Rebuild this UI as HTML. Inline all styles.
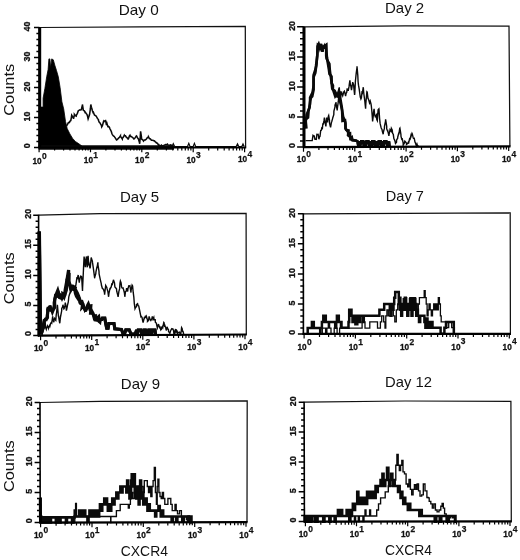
<!DOCTYPE html>
<html><head><meta charset="utf-8"><title>CXCR4 histograms</title>
<style>html,body{margin:0;padding:0;background:#fff}svg{display:block}text{font-family:"Liberation Sans", sans-serif;fill:#111}</style>
</head><body>
<svg width="520" height="560" viewBox="0 0 520 560">
<rect width="520" height="560" fill="#fff"/>
<g id="panel1">
<polygon points="40.5,147.3 40.5,107.1 43.1,107.1 43.1,98.2 44.9,88.4 46.7,76.8 48.1,69.6 48.9,58.9 49.9,58.9 50.6,67.9 51.7,58.9 53.3,59.8 54.8,65.2 56.5,70.5 58.3,76.8 60.1,87.5 61.9,101.8 63.7,108.9 65.5,121.4 67.2,128.6 69.9,133.9 72.6,138.4 75.3,141.4 78.9,143.8 82.4,146.4 84.2,147.3" fill="#000" stroke="#000" stroke-width="0.8" stroke-linejoin="miter"/>
<polyline points="66.4,126 66.4,125.9 67.4,124.7 68.4,122.6 69,122.3 69.4,122.5 70.4,120.6 70.8,120.5 71.4,117.3 71.7,115.2 72.4,116.4 73.4,118 73.5,118.8 74.4,115 74.4,114.3 75.4,115.6 76.2,116.1 76.4,115 77.4,113.3 78,111.6 78.4,110.6 79.4,110.2 79.8,109.8 80.4,110 81.4,109.6 81.5,108.9 82.4,105.2 82.4,104.5 83.3,109.8 83.4,110.5 84.4,110.8 85.1,112.5 85.4,112.4 86.4,113.7 86.9,114.3 87.4,115.7 88.1,118.8 88.4,117.9 89.4,115.1 89.6,114.3 90.4,108.7 90.8,104.5 91.4,107.2 91.7,108 92.4,110.7 93.1,112.5 93.4,112.3 94.4,115 94.9,115.2 95.4,115.7 96.4,116.2 96.7,117 97.4,118.4 98.4,119.6 98.5,120.5 99.4,122.5 100.3,123.2 100.4,123.8 101.4,125.4 101.7,126.8 102.4,125.6 103.4,122 103.5,122.3 104.4,121 105.4,120.5 105.6,120.5 106.4,124.8 106.5,125 106.5,121.7 107.4,125.3 107.9,126.5 108.4,126.4 109.4,127.3 109.8,128.5 110.4,129.6 111.4,131.8 111.8,133.3 112.4,134.6 113.4,136 114.4,136.5 114.7,137.1 115.4,138.2 116.4,139.8 116.6,140 117.4,139.4 118.4,138.2 118.5,138.1 119.4,137.5 120.4,135.9 120.4,136.2 121.4,137.6 122.3,139 122.4,138.3 123.4,137.1 124.3,135.2 124.4,135.4 125.4,135.7 126.2,137.1 126.4,137.2 127.4,138.1 128.1,139 128.4,138.9 129.4,135.9 130,135.2 130.4,136.2 131.4,136.4 132,137.1 132.4,137.3 133.4,138.2 133.9,139 134.4,138.7 135.4,137.4 136.4,135.9 136.8,136.2 137.4,137.7 138.4,138.9 138.7,140 139.4,142.3 139.7,143.8 140.4,134.6 140.6,131.3 141.4,136.7 141.6,139 142.4,139.6 143.4,140.7 143.5,141 144.4,139.9 145.4,139.9 146.4,139 146.4,139 147.4,137.5 148.3,137.1 148.4,136.7 149.4,138.6 150.4,138.9 151.2,140 151.4,140.3 152.4,140.2 153.4,140.4 154.1,141 154.4,140.9 155.4,141.9 156.4,142.7 156.4,142.9 157.4,143.2 158.4,145 158.9,144.8 159.4,145.6 160.4,145.9 161.4,145.2 161.8,145.8 162.4,146.1 163.4,145.5 164.4,145.1 165.4,144.6 166.4,144.7 167.4,144.2 167.5,144.8 168.4,145.1 169.4,145.4 170.4,144.9 171.4,145.2 171.4,144.8 172.3,147.1" fill="none" stroke="#0a0a0a" stroke-width="1.55" stroke-linejoin="miter" stroke-linecap="butt"/>
<polyline points="38.6,147.5 174,147.5" fill="none" stroke="#0a0a0a" stroke-width="4.4" stroke-linejoin="miter" stroke-linecap="butt"/>
<polyline points="172,146.5 173.3,143.6 174.6,146.5 187.5,146.5 188.8,143.4 190,146.5 193.2,146.5 194.4,143.4 195.6,146.5 236.2,146.5 237.5,143.8 238.8,146.5 241.8,146.5 243,144 244.2,146.5" fill="none" stroke="#0a0a0a" stroke-width="1.2" stroke-linejoin="miter" stroke-linecap="butt"/>
<path d="M39.4 27.5 L140 26.9 L245.3 26.4 L245.6 147.5" fill="none" stroke="#111" stroke-width="1.25"/>
<path d="M39.4 27 L39.4 148.5" stroke="#000" stroke-width="1.6"/>
<path d="M39.7 27.5 L39.7 147.3" stroke="#000" stroke-width="3"/>
<path d="M38.6 147.5 L246.2 147.5" stroke="#000" stroke-width="2.2"/>
<path d="M39.4 147.5h-5.4M39.4 141.5h-3M39.4 135.5h-3M39.4 129.5h-3M39.4 123.5h-3M39.4 117.5h-5.4M39.4 111.5h-3M39.4 105.5h-3M39.4 99.5h-3M39.4 93.5h-3M39.4 87.5h-5.4M39.4 81.5h-3M39.4 75.5h-3M39.4 69.5h-3M39.4 63.5h-3M39.4 57.5h-5.4M39.4 51.5h-3M39.4 45.5h-3M39.4 39.5h-3M39.4 33.5h-3M39.4 27.5h-5.4" stroke="#000" stroke-width="1.5" fill="none"/>
<text transform="translate(30.4 145.9) rotate(-90)" text-anchor="middle" font-size="8.2" font-weight="bold" textLength="4.9" lengthAdjust="spacingAndGlyphs" stroke="#111" stroke-width="0.3">0</text>
<text transform="translate(30.4 116.6) rotate(-90)" text-anchor="middle" font-size="8.2" font-weight="bold" textLength="9.8" lengthAdjust="spacingAndGlyphs" stroke="#111" stroke-width="0.3">10</text>
<text transform="translate(30.4 86.6) rotate(-90)" text-anchor="middle" font-size="8.2" font-weight="bold" textLength="9.8" lengthAdjust="spacingAndGlyphs" stroke="#111" stroke-width="0.3">20</text>
<text transform="translate(30.4 56.6) rotate(-90)" text-anchor="middle" font-size="8.2" font-weight="bold" textLength="9.8" lengthAdjust="spacingAndGlyphs" stroke="#111" stroke-width="0.3">30</text>
<text transform="translate(30.4 26.6) rotate(-90)" text-anchor="middle" font-size="8.2" font-weight="bold" textLength="9.8" lengthAdjust="spacingAndGlyphs" stroke="#111" stroke-width="0.3">40</text>
<path d="M39.1 147v5.2M54.6 147.5v3.1M63.6 147.5v3.1M70 147.5v3.1M75 147.5v3.1M79.1 147.5v3.1M82.5 147.5v3.1M85.5 147.5v3.1M88.1 147.5v3.1M90.5 147v5.2M105.9 147.5v3.1M115 147.5v3.1M121.4 147.5v3.1M126.4 147.5v3.1M130.5 147.5v3.1M133.9 147.5v3.1M136.9 147.5v3.1M139.5 147.5v3.1M141.8 147v5.2M157.3 147.5v3.1M166.4 147.5v3.1M172.8 147.5v3.1M177.8 147.5v3.1M181.8 147.5v3.1M185.3 147.5v3.1M188.2 147.5v3.1M190.9 147.5v3.1M193.2 147v5.2M208.7 147.5v3.1M217.7 147.5v3.1M224.2 147.5v3.1M229.1 147.5v3.1M233.2 147.5v3.1M236.6 147.5v3.1M239.6 147.5v3.1M242.2 147.5v3.1M244.6 147v5.2" stroke="#000" stroke-width="1.2" fill="none"/>
<text x="41.6" y="163.7" text-anchor="end" font-size="8.7" font-weight="bold" textLength="9.2" lengthAdjust="spacingAndGlyphs" stroke="#111" stroke-width="0.3">10</text>
<text x="41.9" y="158.5" font-size="9.2" font-weight="bold" textLength="4.7" lengthAdjust="spacingAndGlyphs" stroke="#111" stroke-width="0.25">0</text>
<text x="93" y="163.4" text-anchor="end" font-size="8.7" font-weight="bold" textLength="9.2" lengthAdjust="spacingAndGlyphs" stroke="#111" stroke-width="0.3">10</text>
<text x="93.3" y="158.2" font-size="9.2" font-weight="bold" textLength="4.7" lengthAdjust="spacingAndGlyphs" stroke="#111" stroke-width="0.25">1</text>
<text x="144.3" y="163.1" text-anchor="end" font-size="8.7" font-weight="bold" textLength="9.2" lengthAdjust="spacingAndGlyphs" stroke="#111" stroke-width="0.3">10</text>
<text x="144.7" y="157.9" font-size="9.2" font-weight="bold" textLength="4.7" lengthAdjust="spacingAndGlyphs" stroke="#111" stroke-width="0.25">2</text>
<text x="195.7" y="162.7" text-anchor="end" font-size="8.7" font-weight="bold" textLength="9.2" lengthAdjust="spacingAndGlyphs" stroke="#111" stroke-width="0.3">10</text>
<text x="196" y="157.5" font-size="9.2" font-weight="bold" textLength="4.7" lengthAdjust="spacingAndGlyphs" stroke="#111" stroke-width="0.25">3</text>
<text x="247.1" y="162.4" text-anchor="end" font-size="8.7" font-weight="bold" textLength="9.2" lengthAdjust="spacingAndGlyphs" stroke="#111" stroke-width="0.3">10</text>
<text x="247.4" y="157.2" font-size="9.2" font-weight="bold" textLength="4.7" lengthAdjust="spacingAndGlyphs" stroke="#111" stroke-width="0.25">4</text>
<text x="118.8" y="15.1" font-size="14.6" fill="#1c1c1c" textLength="40" lengthAdjust="spacingAndGlyphs">Day 0</text>
<text transform="translate(13.5 89.8) rotate(-90)" text-anchor="middle" font-size="15.4" fill="#1c1c1c" textLength="51.8" lengthAdjust="spacingAndGlyphs">Counts</text>
</g>
<g id="panel2">
<polyline points="305.5,140.6 312.2,140.6 313,135.3 314.1,136.3 314.1,135.3 314.9,139.2 315.2,139.1 316.1,139.2 316.3,139.3 316.9,134.3 317.4,134.4 318.1,134.3 318.5,135.9 318.9,139.2 319.6,136.6 320,136.3 320.7,130.5 321.2,130.4 321.8,127.9 322.4,128.4 322.9,123.3 323.2,124.5 324,120.7 324.4,117.6 325.1,123.1 325.1,122.5 325.9,126.4 326.2,122 326.7,117.6 327.3,119.5 327.5,122.5 328.4,116.3 328.7,115.6 329.5,120.6 329.5,122.8 330.3,126.4 330.6,127.4 331.4,122.5 331.7,121.7 332.6,118.6 332.8,117.7 333.8,114.7 333.9,111.2 335,106.8 335,105.2 336.1,102.3 336.1,103.9 337.2,110.5 337.3,108.8 338.3,101.7 338.5,98.9 339.3,87.2 339.4,89.6 340.5,97 340.5,96.6 341.6,91.5 341.7,93 342.7,95.7 343.2,94 343.8,91.8 344.4,91.1 344.9,92.8 345.6,96 346,93.8 346.8,92.1 347.1,89 347.9,89.1 348.2,90.9 349.1,86.2 349.3,84.4 349.9,80.3 350.4,85 350.7,85.2 351.5,90.1 351.5,90.2 352.6,82.9 352.7,82.2 353.7,85.1 353.8,87.2 354.6,95 354.8,93.2 355.4,81.3 355.9,76.3 356.2,73.4 357,67.5 357,66.2 357.8,75.4 358.1,81.8 358.5,85.2 359.2,89.2 359.7,93 360.3,97.1 360.9,98.9 361.4,97.7 362.1,91.1 362.5,92.1 363.3,87.2 363.6,91.5 364,95 364.7,100.2 364.8,100.9 365.6,108.8 365.8,104 366.4,97 366.9,91.8 367.2,92.1 368,98.6 368.4,98.9 369.1,101.4 369.5,102.9 370.2,101 371,103.9 371.3,105.8 371.8,110.7 372.4,118.1 372.6,121.5 373.4,114.7 373.5,112.4 374.1,108.8 374.6,114.6 375.3,116.6 375.7,115.8 376.5,114.7 376.8,119.6 377.3,120.6 377.9,112.7 378.1,109.7 378.9,108.8 379,109.6 379.6,118.6 380.1,123.4 380.8,126.4 381.2,128 382,129.4 382.3,131.2 383.2,134.3 383.4,132 384.4,128.4 384.5,126.2 385.5,121.5 385.6,119.4 386.7,126.4 386.7,128.9 387.8,131.6 387.9,131.4 388.9,135.8 389.1,134.3 390,129.8 390.3,130.4 391.1,131.3 391.4,128.4 392.2,129.9 392.6,133.3 393.3,134.3 393.8,138.2 394.4,139.6 395,141.2 395.5,143.4 396.5,142.2 396.6,139.9 397.7,138.2 397.7,137.2 398.8,133 398.9,134.3 399.7,128.4 399.9,128.1 400.9,134.3 401,136.3 402,140.2 402.1,138.1 403.2,143.1 403.2,145.1 404.3,143.3 404.8,141.2 405.4,141.8 406.4,143.1 406.5,144.4 407.6,143.6 408.3,142.2 408.7,142.7 409.8,137.9 409.9,140.2 410.9,135.7 411.1,136.3 412,133.3 412.3,133.9 413.1,137.4 413.4,138.2 414.2,138.2 415,142.2 415.3,142.5 416.4,146 417,144.1 417.5,145.7 418.6,146.1 418.9,146.1" fill="none" stroke="#0a0a0a" stroke-width="1.4" stroke-linejoin="miter" stroke-linecap="butt"/>
<polyline points="306.4,128.6 305.5,119.3 308,117.6 308.5,111 309.3,108 310.2,101.3 310.8,98 312.2,96.3 313.6,89.7 313.5,82.5 313.6,75.3 315.3,70 316.1,65.5 317.3,55.7 317.6,46.4 318.7,44.1 319.9,48 321.1,44 322.5,51.7 323.1,47.7 324,46.4 324.1,47.7 326.2,45.5 326.7,55.7 327,58.1 328,63.7 328.9,69.2 329.5,73.9 331.5,76.4 331.7,83.1 332.9,85.5 332.8,89.3 334.7,90.8 336,93.5 336.9,94.8 337.9,97.6 337.9,95.1 339.1,92.2 339.3,91.3 340.6,100.6 341.7,106.9 343,116.5 344.1,119.2 344.7,120.4 345.4,123.2 345.5,128.7 346.1,129.7 348.5,130.4 348.1,135.3 349.4,136.3 349.6,135.9 350.7,138 351.5,139.9 356,140.6 357.5,141.3 358.4,146.6 359.1,141.3 360,146.6 361.2,141.3 362.2,141.3 363.2,141.3 363.9,146.6 364.6,141.3 365.8,146.6 366.5,141.3 367.4,141.3 368.4,141.3 369.6,146.6 370.3,141.3 371.5,146.6 372.2,141.3 373.2,141.3 374.2,141.3 374.9,146.6 375.6,141.3 376.5,146.6 377.4,141.3 378.1,146.6 378.8,141.3 379.8,141.3 380.8,141.3 381.5,146.6 382.7,141.3 383.6,146.6 384.3,141.3 385.3,141.3 386.3,141.3 387.5,146.6 388.2,141.3 388.9,146.6 389,141.3 389.5,146.6" fill="none" stroke="#0a0a0a" stroke-width="2.7" stroke-linejoin="miter" stroke-linecap="butt"/>
<polyline points="305.4,125.8 305.8,121.9 306.6,114.5 309.7,106.9 310,104 310,97.4 312.5,92.2 313.7,84.6 313.7,77 315.4,72.9 316.7,62.9 317.3,53.6 317.8,44.9 320.2,46.8 320.7,44 321.5,47 322.6,46.8 323.5,47.2 326.1,45 326.1,55.9 326.5,58.7 329.5,63.8 329.9,69.8 331,79 331.2,80.2 332.1,88.3 333,89.9 335.2,96.6 336.1,95.5 337.7,94.8 338.7,91.3 339.8,94.3 339.7,99.6 342,110 342.4,120.9 345.1,120.3 345.6,126.5 345.6,128.1 346.3,130 348.8,133.3 350.1,133.1 350.3,138.3 351.9,137.1 352.6,140.4 356,140.6 357.5,141.3 358.4,146.6 359.1,141.3 360,146.6 361.2,141.3 362.2,141.3 363.2,141.3 363.9,146.6 364.6,141.3 365.8,146.6 366.5,141.3 367.4,141.3 368.4,141.3 369.6,146.6 370.3,141.3 371.5,146.6 372.2,141.3 373.2,141.3 374.2,141.3 374.9,146.6 375.6,141.3 376.5,146.6 377.4,141.3 378.1,146.6 378.8,141.3 379.8,141.3 380.8,141.3 381.5,146.6 382.7,141.3 383.6,146.6 384.3,141.3 385.3,141.3 386.3,141.3 387.5,146.6 388.2,141.3 388.9,146.6 389,141.3 389.5,146.6" fill="none" stroke="#0a0a0a" stroke-width="2.4" stroke-linejoin="miter" stroke-linecap="butt"/>
<path d="M303.7 26.8 L405 25.8 L509 26.2 L509.9 146.4" fill="none" stroke="#111" stroke-width="1.25"/>
<path d="M303.7 26.3 L303.7 148.1" stroke="#000" stroke-width="1.6"/>
<path d="M304 26.9 L304 146.6" stroke="#000" stroke-width="3"/>
<path d="M302.9 147.1 L510.5 146.4" stroke="#000" stroke-width="2.2"/>
<path d="M303.7 147.1h-6.6M303.7 141.1h-3.7M303.7 135.1h-3.7M303.7 129.1h-3.7M303.7 123h-3.7M303.7 117h-6.6M303.7 111h-3.7M303.7 105h-3.7M303.7 99h-3.7M303.7 93h-3.7M303.7 86.9h-6.6M303.7 80.9h-3.7M303.7 74.9h-3.7M303.7 68.9h-3.7M303.7 62.9h-3.7M303.7 56.9h-6.6M303.7 50.9h-3.7M303.7 44.8h-3.7M303.7 38.8h-3.7M303.7 32.8h-3.7M303.7 26.8h-6.6" stroke="#000" stroke-width="1.5" fill="none"/>
<text transform="translate(294.6 145.5) rotate(-90)" text-anchor="middle" font-size="8.2" font-weight="bold" textLength="4.9" lengthAdjust="spacingAndGlyphs" stroke="#111" stroke-width="0.3">0</text>
<text transform="translate(294.6 116.1) rotate(-90)" text-anchor="middle" font-size="8.2" font-weight="bold" textLength="4.9" lengthAdjust="spacingAndGlyphs" stroke="#111" stroke-width="0.3">5</text>
<text transform="translate(294.6 86) rotate(-90)" text-anchor="middle" font-size="8.2" font-weight="bold" textLength="9.8" lengthAdjust="spacingAndGlyphs" stroke="#111" stroke-width="0.3">10</text>
<text transform="translate(294.6 56) rotate(-90)" text-anchor="middle" font-size="8.2" font-weight="bold" textLength="9.8" lengthAdjust="spacingAndGlyphs" stroke="#111" stroke-width="0.3">15</text>
<text transform="translate(294.6 25.9) rotate(-90)" text-anchor="middle" font-size="8.2" font-weight="bold" textLength="9.8" lengthAdjust="spacingAndGlyphs" stroke="#111" stroke-width="0.3">20</text>
<path d="M303.5 146.6v5.2M318.9 147v3.1M328 147v3.1M334.4 147v3.1M339.4 147v3.1M343.4 147v3.1M346.9 147v3.1M349.8 146.9v3.1M352.5 146.9v3.1M354.8 146.4v5.2M370.2 146.9v3.1M379.3 146.8v3.1M385.7 146.8v3.1M390.7 146.8v3.1M394.7 146.8v3.1M398.2 146.8v3.1M401.1 146.8v3.1M403.8 146.8v3.1M406.1 146.2v5.2M421.5 146.7v3.1M430.6 146.7v3.1M437 146.6v3.1M442 146.6v3.1M446 146.6v3.1M449.5 146.6v3.1M452.4 146.6v3.1M455.1 146.6v3.1M457.4 146.1v5.2M472.8 146.5v3.1M481.9 146.5v3.1M488.3 146.5v3.1M493.3 146.5v3.1M497.3 146.4v3.1M500.8 146.4v3.1M503.7 146.4v3.1M506.4 146.4v3.1M508.7 145.9v5.2" stroke="#000" stroke-width="1.2" fill="none"/>
<text x="306" y="162.1" text-anchor="end" font-size="8.7" font-weight="bold" textLength="9.2" lengthAdjust="spacingAndGlyphs" stroke="#111" stroke-width="0.3">10</text>
<text x="306.3" y="156.9" font-size="9.2" font-weight="bold" textLength="4.7" lengthAdjust="spacingAndGlyphs" stroke="#111" stroke-width="0.25">0</text>
<text x="357.3" y="162" text-anchor="end" font-size="8.7" font-weight="bold" textLength="9.2" lengthAdjust="spacingAndGlyphs" stroke="#111" stroke-width="0.3">10</text>
<text x="357.6" y="156.8" font-size="9.2" font-weight="bold" textLength="4.7" lengthAdjust="spacingAndGlyphs" stroke="#111" stroke-width="0.25">1</text>
<text x="408.6" y="161.9" text-anchor="end" font-size="8.7" font-weight="bold" textLength="9.2" lengthAdjust="spacingAndGlyphs" stroke="#111" stroke-width="0.3">10</text>
<text x="408.9" y="156.8" font-size="9.2" font-weight="bold" textLength="4.7" lengthAdjust="spacingAndGlyphs" stroke="#111" stroke-width="0.25">2</text>
<text x="459.9" y="161.9" text-anchor="end" font-size="8.7" font-weight="bold" textLength="9.2" lengthAdjust="spacingAndGlyphs" stroke="#111" stroke-width="0.3">10</text>
<text x="460.2" y="156.7" font-size="9.2" font-weight="bold" textLength="4.7" lengthAdjust="spacingAndGlyphs" stroke="#111" stroke-width="0.25">3</text>
<text x="511.2" y="161.8" text-anchor="end" font-size="8.7" font-weight="bold" textLength="9.2" lengthAdjust="spacingAndGlyphs" stroke="#111" stroke-width="0.3">10</text>
<text x="511.5" y="156.6" font-size="9.2" font-weight="bold" textLength="4.7" lengthAdjust="spacingAndGlyphs" stroke="#111" stroke-width="0.25">4</text>
<text x="385" y="13.1" font-size="14.6" fill="#1c1c1c" textLength="39.2" lengthAdjust="spacingAndGlyphs">Day 2</text>
</g>
<g id="panel3">
<polyline points="40.9,330.2 42.1,334.1 43.6,328.2 45.2,324.5 45.2,326.3 46.3,329.3 46.8,327.2 47.4,325.8 48.4,328.2 48.5,327.3 49.6,325.4 49.9,326.3 50.7,323.4 51.5,322.3 51.8,322.8 52.7,316.4 52.9,319.7 53.9,322.3 54,319.4 54.6,318.4 55.1,319.6 55.8,320.4 56.2,315 56.6,312.5 57.3,305.9 57.4,304.7 58.4,316.2 58.6,316.4 59.5,322.2 59.8,323.3 60.5,316.4 60.6,316.5 61.7,310.8 61.7,308.6 62.8,306.3 62.9,304.7 63.9,308.8 64.1,308.6 65,305.4 65.3,302.7 66.1,306.9 66.4,310.6 67.2,306.8 67.6,304.7 68.3,302 68.8,296.8 69.4,294.8 70,292.9 70.5,292.3 71.5,288.9 71.6,287.9 72.7,287.9 73.1,287 73.8,287.9 74.7,288 74.9,287.1 75.9,285 76,284.1 77,277.2 77.1,279.4 78.2,274.9 78.2,275.2 79.3,282.7 79.4,281.1 80.4,276.9 80.6,276.2 81.5,276.6 81.8,279.1 82.5,290.9 82.6,287.7 83.3,273.2 83.7,264.3 84.1,256.5 84.8,262.3 85.3,267.3 85.9,259.4 86.5,256.5 87,265.4 87.3,267.3 88,256.5 88.1,255.9 88.8,265.4 89.2,264.2 90,268.3 90.3,267.1 91.2,257.5 91.4,258.1 92.4,261.4 92.5,262.4 93.5,269.3 93.6,270.2 94.7,278.3 94.7,277.2 95.8,273.7 95.9,272.2 96.9,267.3 97.1,267.3 97.9,262.4 98,265.1 99,271.3 99.1,273.8 100.2,279.1 100.2,279.1 101.3,283.8 101.4,285 102.4,288.5 103,288.9 103.5,289.2 104.5,292.9 104.6,294.7 105.5,287 105.7,285.4 106.8,287.4 107.1,288.9 107.9,291.6 108.6,296.8 109,293 110.1,288 110.2,288.9 111.2,286.9 111.8,284 112.3,284.3 113.4,280.1 113.4,279.8 114.5,282.9 114.9,287 115.6,287.8 116.5,288.9 116.7,291.2 117.8,295.3 118.1,296.8 118.9,291.3 119.6,288.9 120,283.2 120.4,281.1 121.1,282.9 121.6,287 122.2,288.1 123.2,288 123.3,288.7 124.4,292.7 124.8,296.8 125.5,291.7 126.3,290.9 126.6,288.2 127.7,291.5 127.9,288.9 128.8,285.9 129.5,286 129.9,285.7 131,292.6 131,290.9 132.1,285.2 132.6,286 133.2,292.2 133.8,296.8 134.3,303.5 135,308.6 135.4,307.7 136.5,306.4 136.5,304.7 137.6,303.8 138.1,305.6 138.7,305.9 139.7,310.6 139.8,311.1 140.9,316.7 141.3,316.4 142,317.3 142.8,321.4 143.1,322.6 144.2,318.2 144.4,318.4 145.3,316.4 146,317.4 146.4,316.4 147.5,320 147.5,321.4 148.6,320.3 149.1,316.4 149.7,318.2 150.7,320.4 150.8,320.5 151.9,318.6 152.3,316.4 153,319.1 153.8,317.4 154.1,319.8 155.2,319.8 155.4,322.3 156.3,323.1 157,326.3 157.4,327.8 158.5,323.9 158.5,324.3 159.6,327.4 160,327 160.7,329.6 161.6,327.7 161.8,328.5 162.7,326.3 162.9,326.9 163.8,322.3 164,322.5 164.8,327 165.1,326.1 165.9,328.4 166.2,330.5 167.3,326.7 167.5,329 168.4,329.3 168.6,331.7 169.5,332.6 169.7,333.7 170.6,330.7 170.8,330.4 171.7,328.7 172.1,329 172.8,328.8 173.5,330.4 173.9,333.6 174.5,333.7 175,331 175.6,329 176.1,331.8 176.7,330.4 177.2,331.2 177.5,333.7 178.3,332.6 179.4,332.2 180.2,334 180.5,335.3 181.3,330.4 181.6,327.6 182.1,328.4 182.7,331.9 182.9,331 183.7,334" fill="none" stroke="#0a0a0a" stroke-width="1.4" stroke-linejoin="miter" stroke-linecap="butt"/>
<polyline points="39.4,231.5 40.6,333 41.6,333 42.3,330.5 43.6,327.3 44.5,325 44.2,320.4 46.9,318.2 47.8,311.9 48,309.1 49.2,309.6 49.2,306.2 50.7,310.1 52.6,309.9 53.6,308.7 54.3,305.3 54.2,302.9 55.5,295.7 57.9,296.4 57.7,291 59.1,294.1 59.5,297.6 61.4,298.2 62.8,294.1 62.8,293.7 63.4,294.1 64.7,294.3 65.2,289.7 66.8,281.1 68.6,270 68.7,281.1 70.4,285.7 71.9,286.2 72.5,290.5 72.2,289.7 73.8,288.6 74.2,286.4 75.5,293.6 76.5,296.2 78.8,299.7 78.8,298.9 80.1,302.9 80.4,303.4 82.6,304.5 82.2,307.3 83.3,306.2 85.3,310.5 85.8,310.4 87.2,306.7 87.7,305.1 88.3,304 90.4,310.9 90.5,308.7 92.9,313.1 92.9,313.2 94.2,317.8 95,317.1 95.3,321.2 96.2,319 98.7,316.6 99.8,322.3 100,319.4 101.9,319.4 102.4,318.1 104.8,318.1 105.7,323.5 106.7,328.2 108.1,328.2 108.9,323.5 114,323.5 114.8,328.8 121.5,329.5 123.1,334 124.5,334 125.8,329.9 129.3,329.9 131,334 135.3,334 136.6,330 137.3,335.2 138.2,330 139.1,330 140.1,330 141.1,330 141.8,335.2 142.5,330 143.7,335.2 144.4,330 145.4,330 146.1,335.2 146.8,330 147.5,335.2 148.7,330 149.7,330 150.7,330 151.4,335.2 152.3,330 153.5,330 154.5,330 155,330 155.6,335.2" fill="none" stroke="#0a0a0a" stroke-width="3.2" stroke-linejoin="miter" stroke-linecap="butt"/>
<polyline points="39.4,231.5 40.6,333 41.6,333 43,326.5 43.7,322.3 45.4,319.3 46.4,319.7 47.6,317.5 47.6,309.5 49.7,307.7 50,305.5 52.4,312.3 53.5,309.5 54.9,307.3 54.7,299.5 56.3,293.8 57.8,290.1 59,294.4 60.4,294.7 62,298.4 62.5,297.3 62.7,294 64.2,297.2 66.5,290 66.8,280.3 69.2,272.9 68.9,283.2 70.8,290.4 72.2,288.1 73.3,286.3 75.4,287.6 75.1,288.6 77.5,293.2 78.9,296.5 79.2,297.6 81.3,303.5 81.6,300.3 82.9,303.8 84.8,309.5 85.8,307.4 85.6,310.2 88.6,305.3 88.9,305.9 91,305.7 90.4,313.4 92.6,313.4 94.2,316 95.3,315.9 95.2,316.3 96.9,319.7 99.8,322.3 100,319.4 101.9,319.4 102.4,318.1 104.8,318.1 105.7,323.5 106.7,328.2 108.1,328.2 108.9,323.5 114,323.5 114.8,328.8 121.5,329.5 123.1,334 124.5,334 125.8,329.9 129.3,329.9 131,334 135.3,334 136.6,330 137.3,335.2 138.2,330 139.1,330 140.1,330 141.1,330 141.8,335.2 142.5,330 143.7,335.2 144.4,330 145.4,330 146.1,335.2 146.8,330 147.5,335.2 148.7,330 149.7,330 150.7,330 151.4,335.2 152.3,330 153.5,330 154.5,330 155,330 155.6,335.2" fill="none" stroke="#0a0a0a" stroke-width="2.9" stroke-linejoin="miter" stroke-linecap="butt"/>
<path d="M38.6 215.2 L100 213.7 L246.1 213.5 L246.3 334.5" fill="none" stroke="#111" stroke-width="1.25"/>
<path d="M38.6 214.7 L38.6 336.6" stroke="#000" stroke-width="1.6"/>
<path d="M38.9 231.5 L38.9 335" stroke="#000" stroke-width="3"/>
<path d="M37.8 335.6 L246.9 334.5" stroke="#000" stroke-width="2.2"/>
<path d="M38.6 335.6h-5.4M38.6 329.6h-3M38.6 323.6h-3M38.6 317.5h-3M38.6 311.5h-3M38.6 305.5h-5.4M38.6 299.5h-3M38.6 293.5h-3M38.6 287.4h-3M38.6 281.4h-3M38.6 275.4h-5.4M38.6 269.4h-3M38.6 263.4h-3M38.6 257.3h-3M38.6 251.3h-3M38.6 245.3h-5.4M38.6 239.3h-3M38.6 233.3h-3M38.6 227.2h-3M38.6 221.2h-3M38.6 215.2h-5.4" stroke="#000" stroke-width="1.5" fill="none"/>
<text transform="translate(31 333.5) rotate(-90)" text-anchor="middle" font-size="8.2" font-weight="bold" textLength="4.9" lengthAdjust="spacingAndGlyphs" stroke="#111" stroke-width="0.3">0</text>
<text transform="translate(31 304.1) rotate(-90)" text-anchor="middle" font-size="8.2" font-weight="bold" textLength="4.9" lengthAdjust="spacingAndGlyphs" stroke="#111" stroke-width="0.3">5</text>
<text transform="translate(31 274) rotate(-90)" text-anchor="middle" font-size="8.2" font-weight="bold" textLength="9.8" lengthAdjust="spacingAndGlyphs" stroke="#111" stroke-width="0.3">10</text>
<text transform="translate(31 243.9) rotate(-90)" text-anchor="middle" font-size="8.2" font-weight="bold" textLength="9.8" lengthAdjust="spacingAndGlyphs" stroke="#111" stroke-width="0.3">15</text>
<text transform="translate(31 213.8) rotate(-90)" text-anchor="middle" font-size="8.2" font-weight="bold" textLength="9.8" lengthAdjust="spacingAndGlyphs" stroke="#111" stroke-width="0.3">20</text>
<path d="M40.6 335.1v5.2M56 335.5v3.1M65 335.5v3.1M71.4 335.4v3.1M76.3 335.4v3.1M80.4 335.4v3.1M83.8 335.4v3.1M86.7 335.4v3.1M89.4 335.3v3.1M91.7 334.8v5.2M107.1 335.2v3.1M116.1 335.2v3.1M122.5 335.2v3.1M127.4 335.1v3.1M131.5 335.1v3.1M134.9 335.1v3.1M137.8 335.1v3.1M140.5 335.1v3.1M142.8 334.6v5.2M158.2 335v3.1M167.2 334.9v3.1M173.6 334.9v3.1M178.5 334.9v3.1M182.6 334.8v3.1M186 334.8v3.1M188.9 334.8v3.1M191.6 334.8v3.1M193.9 334.3v5.2M209.3 334.7v3.1M218.3 334.6v3.1M224.7 334.6v3.1M229.6 334.6v3.1M233.7 334.6v3.1M237.1 334.5v3.1M240 334.5v3.1M242.7 334.5v3.1M245 334v5.2" stroke="#000" stroke-width="1.2" fill="none"/>
<text x="43.1" y="350.9" text-anchor="end" font-size="8.7" font-weight="bold" textLength="9.2" lengthAdjust="spacingAndGlyphs" stroke="#111" stroke-width="0.3">10</text>
<text x="43.4" y="345.7" font-size="9.2" font-weight="bold" textLength="4.7" lengthAdjust="spacingAndGlyphs" stroke="#111" stroke-width="0.25">0</text>
<text x="94.2" y="350.6" text-anchor="end" font-size="8.7" font-weight="bold" textLength="9.2" lengthAdjust="spacingAndGlyphs" stroke="#111" stroke-width="0.3">10</text>
<text x="94.5" y="345.4" font-size="9.2" font-weight="bold" textLength="4.7" lengthAdjust="spacingAndGlyphs" stroke="#111" stroke-width="0.25">1</text>
<text x="145.3" y="350.4" text-anchor="end" font-size="8.7" font-weight="bold" textLength="9.2" lengthAdjust="spacingAndGlyphs" stroke="#111" stroke-width="0.3">10</text>
<text x="145.6" y="345.2" font-size="9.2" font-weight="bold" textLength="4.7" lengthAdjust="spacingAndGlyphs" stroke="#111" stroke-width="0.25">2</text>
<text x="196.4" y="350.1" text-anchor="end" font-size="8.7" font-weight="bold" textLength="9.2" lengthAdjust="spacingAndGlyphs" stroke="#111" stroke-width="0.3">10</text>
<text x="196.7" y="344.9" font-size="9.2" font-weight="bold" textLength="4.7" lengthAdjust="spacingAndGlyphs" stroke="#111" stroke-width="0.25">3</text>
<text x="247.5" y="349.8" text-anchor="end" font-size="8.7" font-weight="bold" textLength="9.2" lengthAdjust="spacingAndGlyphs" stroke="#111" stroke-width="0.3">10</text>
<text x="247.8" y="344.6" font-size="9.2" font-weight="bold" textLength="4.7" lengthAdjust="spacingAndGlyphs" stroke="#111" stroke-width="0.25">4</text>
<text x="120" y="201.6" font-size="14.6" fill="#1c1c1c" textLength="39.2" lengthAdjust="spacingAndGlyphs">Day 5</text>
<text transform="translate(13.5 278.3) rotate(-90)" text-anchor="middle" font-size="15.4" fill="#1c1c1c" textLength="51.8" lengthAdjust="spacingAndGlyphs">Counts</text>
</g>
<g id="panel4">
<polyline points="307.3,333.7 319.2,333.7 319.6,333.7 319.6,328.1 320,328.1 320.8,328.1 320.8,333.7 321.5,333.7 322.3,333.7 322.3,328.1 323.1,328.1 325,328.1 325.6,328.1 325.6,333.7 326.2,333.7 326.9,333.7 326.9,328.1 327.7,328.1 328.3,328.1 328.3,321.9 328.8,321.9 329.6,321.9 329.6,328.1 330.4,328.1 331,328.1 331,333.7 331.5,333.7 333.8,333.7 334.2,333.7 334.2,328.1 334.6,328.1 336.5,328.1 337.1,328.1 337.1,333.7 337.7,333.7 339.2,333.7 339.6,333.7 339.6,328.1 340,328.1 340.4,328.1 340.4,321.9 340.8,321.9 341.2,321.9 341.2,328.1 341.5,328.1 361.5,328.1 362.1,328.1 362.1,321.9 362.7,321.9 363.3,321.9 363.3,315.8 363.8,315.8 364.2,315.8 364.2,321.9 364.6,321.9 365,321.9 365,328.1 365.4,328.1 369.2,328.1 369.8,328.1 369.8,321.9 370.4,321.9 376.9,321.9 377.5,321.9 377.5,328.1 378.1,328.1 380,328.1 380.4,328.1 380.4,321.9 380.8,321.9 381.7,321.9 381.7,315.8 382.7,315.8 383.7,315.8 383.7,321.9 384.6,321.9 385,321.9 385,328.1 385.4,328.1 385.8,328.1 385.8,315.8 386.2,315.8 386.9,315.8 386.9,309.8 387.7,309.8 388.3,309.8 388.3,315.8 388.8,315.8 390,315.8 390,304 390.8,304 390.8,309.8 391.5,309.8 392.1,309.8 392.1,304 392.7,304 393.3,304 393.3,315.8 393.8,315.8 394.8,315.8 394.8,321.9 395.8,321.9 396.3,321.9 396.3,309.8 396.9,309.8 397.7,309.8 397.7,304 398.5,304 399.2,304 399.2,309.8 400,309.8 400.8,309.8 400.8,304 401.5,304 402.5,304 402.5,309.8 403.5,309.8 404.2,309.8 404.2,304 405,304 405.6,304 405.6,297.7 406.2,297.7 406.7,297.7 406.7,304 407.3,304 409.2,304 409.8,304 409.8,297.7 410.4,297.7 411,297.7 411,304 411.5,304 412.1,304 412.1,297.7 412.7,297.7 413.3,297.7 413.3,304 413.8,304 414.4,304 414.4,297.7 415,297.7 415.6,297.7 415.6,304 416.2,304 416.9,304 416.9,309.8 417.7,309.8 418.3,309.8 418.3,304 418.8,304 419.4,304 419.4,297.7 420,297.7 423.8,297.7 424.2,297.7 424.2,290.6 424.6,290.6 425.2,290.6 425.2,297.7 425.8,297.7 426.2,297.7 426.2,304 426.5,304 427.1,304 427.1,315.8 427.7,315.8 428.1,315.8 428.1,309.8 428.5,309.8 429,309.8 429,304 429.6,304 430.2,304 430.2,309.8 430.8,309.8 431.3,309.8 431.3,315.8 431.9,315.8 432.5,315.8 432.5,309.8 433.1,309.8 433.7,309.8 433.7,304 434.2,304 434.8,304 434.8,309.8 435.4,309.8 436,309.8 436,304 436.5,304 437.1,304 437.1,309.8 437.7,309.8 438.3,309.8 438.3,297.7 438.8,297.7 439.4,297.7 439.4,304 440,304 440.4,304 440.4,315.8 440.8,315.8 441.2,315.8 441.2,321.9 441.5,321.9 445.8,321.9 446.7,321.9 446.7,327.7 447.7,327.7 448.7,327.7 448.7,321.9 449.6,321.9 451.2,321.9 451.7,321.9 451.7,327.7 452.3,327.7 454.2,327.7 454.4,327.7 454.4,333.7 454.6,333.7" fill="none" stroke="#0a0a0a" stroke-width="1.3" stroke-linejoin="miter" stroke-linecap="butt"/>
<polyline points="307.3,333.7 307.7,333.7 307.7,328.1 308.1,328.1 311.5,328.1 311.9,328.1 311.9,321.9 312.3,321.9 313.5,321.9 313.8,321.9 313.8,328.1 314.2,328.1 321.2,328.1 321.9,328.1 321.9,321.9 322.7,321.9 323.3,321.9 323.3,315.8 323.8,315.8 325.4,315.8 325.8,315.8 325.8,321.9 326.2,321.9 334.6,321.9 335.2,321.9 335.2,327.7 335.8,327.7 336.2,327.7 336.2,321.9 336.5,321.9 336.9,321.9 336.9,315.8 337.3,315.8 338.5,315.8 338.8,315.8 338.8,321.9 339.2,321.9 341.2,321.9 341.5,321.9 341.5,327.7 341.9,327.7 348.1,327.7 348.5,327.7 348.5,321.9 348.8,321.9 349.2,321.9 349.2,309.8 349.6,309.8 351.2,309.8 351.5,309.8 351.5,315.8 351.9,315.8 352.5,315.8 352.5,321.9 353.1,321.9 353.5,321.9 353.5,315.8 353.8,315.8 355,315.8 355.4,315.8 355.4,324.2 355.8,324.2 356.9,324.2 357.3,324.2 357.3,315.8 357.7,315.8 359.2,315.8 359.6,315.8 359.6,321.9 360,321.9 360.4,321.9 360.4,315.8 360.8,315.8 362.7,315.8 363.1,315.8 363.1,321.9 363.5,321.9 363.8,321.9 363.8,315.8 364.2,315.8 378.8,315.8 379.4,315.8 379.4,309.8 380,309.8 383.8,309.8 384.2,309.8 384.2,304 384.6,304 389.6,304 389.8,304 389.8,309.8 390,309.8 390.6,309.8 390.6,315.8 391.2,315.8 391.5,315.8 391.5,304 391.9,304 392.5,304 392.5,309.8 393.1,309.8 393.5,309.8 393.5,304 393.8,304 394.2,304 394.2,297.7 394.6,297.7 395.2,297.7 395.2,291.9 395.8,291.9 398.5,291.9 398.8,291.9 398.8,304 399.2,304 399.6,304 399.6,297.7 400,297.7 400.4,297.7 400.4,309.8 400.8,309.8 401.2,309.8 401.2,315.8 401.5,315.8 402.1,315.8 402.1,304 402.7,304 403.1,304 403.1,309.8 403.5,309.8 403.8,309.8 403.8,299.2 404.2,299.2 404.8,299.2 404.8,297.7 405.4,297.7 405.8,297.7 405.8,309.8 406.2,309.8 406.5,309.8 406.5,304 406.9,304 407.3,304 407.3,315.8 407.7,315.8 408.3,315.8 408.3,304 408.8,304 409.2,304 409.2,309.8 409.6,309.8 410,309.8 410,299.2 410.4,299.2 410.8,299.2 410.8,309.8 411.2,309.8 411.5,309.8 411.5,315.8 411.9,315.8 412.5,315.8 412.5,304 413.1,304 413.5,304 413.5,309.8 413.8,309.8 414.2,309.8 414.2,299.2 414.6,299.2 415.2,299.2 415.2,304 415.8,304 416.2,304 416.2,315.8 416.5,315.8 416.9,315.8 416.9,309.8 417.3,309.8 417.9,309.8 417.9,315.8 418.5,315.8 419,315.8 419,321.9 419.6,321.9 420.2,321.9 420.2,315.8 420.8,315.8 423.8,315.8 424.4,315.8 424.4,321.9 425,321.9 425.4,321.9 425.4,327.7 425.8,327.7 426.3,327.7 426.3,318.5 426.9,318.5 427.5,318.5 427.5,327.7 428.1,327.7 428.7,327.7 428.7,321.9 429.2,321.9 429.8,321.9 429.8,327.7 430.4,327.7 431,327.7 431,321.9 431.5,321.9 432.5,321.9 432.5,327.7 433.5,327.7 440,327.7 440.6,327.7 440.6,333.7 441.2,333.7 443.8,333.7 444.4,333.7 444.4,327.7 445,327.7 446,327.7 446,321.9 446.9,321.9 453.5,321.9 453.8,321.9 453.8,333.7 454.2,333.7" fill="none" stroke="#0a0a0a" stroke-width="2.5" stroke-linejoin="miter" stroke-linecap="butt"/>
<path d="M303.3 213.8 L405 213.4 L510.2 212.8 L510.4 333.8" fill="none" stroke="#111" stroke-width="1.25"/>
<path d="M303.3 213.3 L303.4 334.9" stroke="#000" stroke-width="1.6"/>
<path d="M302.6 333.9 L511 333.8" stroke="#000" stroke-width="2.2"/>
<path d="M303.3 333.9h-5.4M303.3 327.9h-3M303.3 321.9h-3M303.3 315.9h-3M303.3 309.9h-3M303.3 303.9h-5.4M303.3 297.9h-3M303.3 291.9h-3M303.3 285.9h-3M303.3 279.9h-3M303.3 273.9h-5.4M303.3 267.8h-3M303.3 261.8h-3M303.3 255.8h-3M303.3 249.8h-3M303.3 243.8h-5.4M303.3 237.8h-3M303.3 231.8h-3M303.3 225.8h-3M303.3 219.8h-3M303.3 213.8h-5.4" stroke="#000" stroke-width="1.5" fill="none"/>
<text transform="translate(294.9 332.3) rotate(-90)" text-anchor="middle" font-size="8.2" font-weight="bold" textLength="4.9" lengthAdjust="spacingAndGlyphs" stroke="#111" stroke-width="0.3">0</text>
<text transform="translate(294.9 303) rotate(-90)" text-anchor="middle" font-size="8.2" font-weight="bold" textLength="4.9" lengthAdjust="spacingAndGlyphs" stroke="#111" stroke-width="0.3">5</text>
<text transform="translate(294.9 273) rotate(-90)" text-anchor="middle" font-size="8.2" font-weight="bold" textLength="9.8" lengthAdjust="spacingAndGlyphs" stroke="#111" stroke-width="0.3">10</text>
<text transform="translate(294.9 242.9) rotate(-90)" text-anchor="middle" font-size="8.2" font-weight="bold" textLength="9.8" lengthAdjust="spacingAndGlyphs" stroke="#111" stroke-width="0.3">15</text>
<text transform="translate(294.9 212.9) rotate(-90)" text-anchor="middle" font-size="8.2" font-weight="bold" textLength="9.8" lengthAdjust="spacingAndGlyphs" stroke="#111" stroke-width="0.3">20</text>
<path d="M304.1 333.4v5.2M319.5 333.9v3.1M328.6 333.9v3.1M335 333.9v3.1M340 333.9v3.1M344 333.9v3.1M347.5 333.9v3.1M350.4 333.9v3.1M353.1 333.9v3.1M355.4 333.4v5.2M370.8 333.9v3.1M379.9 333.9v3.1M386.3 333.9v3.1M391.3 333.9v3.1M395.3 333.9v3.1M398.8 333.9v3.1M401.7 333.9v3.1M404.4 333.9v3.1M406.7 333.4v5.2M422.1 333.8v3.1M431.2 333.8v3.1M437.6 333.8v3.1M442.6 333.8v3.1M446.6 333.8v3.1M450.1 333.8v3.1M453 333.8v3.1M455.7 333.8v3.1M458 333.3v5.2M473.4 333.8v3.1M482.5 333.8v3.1M488.9 333.8v3.1M493.9 333.8v3.1M497.9 333.8v3.1M501.4 333.8v3.1M504.3 333.8v3.1M507 333.8v3.1M509.3 333.3v5.2" stroke="#000" stroke-width="1.2" fill="none"/>
<text x="306.6" y="349.7" text-anchor="end" font-size="8.7" font-weight="bold" textLength="9.2" lengthAdjust="spacingAndGlyphs" stroke="#111" stroke-width="0.3">10</text>
<text x="306.9" y="344.5" font-size="9.2" font-weight="bold" textLength="4.7" lengthAdjust="spacingAndGlyphs" stroke="#111" stroke-width="0.25">0</text>
<text x="357.9" y="349.7" text-anchor="end" font-size="8.7" font-weight="bold" textLength="9.2" lengthAdjust="spacingAndGlyphs" stroke="#111" stroke-width="0.3">10</text>
<text x="358.2" y="344.5" font-size="9.2" font-weight="bold" textLength="4.7" lengthAdjust="spacingAndGlyphs" stroke="#111" stroke-width="0.25">1</text>
<text x="409.2" y="349.7" text-anchor="end" font-size="8.7" font-weight="bold" textLength="9.2" lengthAdjust="spacingAndGlyphs" stroke="#111" stroke-width="0.3">10</text>
<text x="409.5" y="344.5" font-size="9.2" font-weight="bold" textLength="4.7" lengthAdjust="spacingAndGlyphs" stroke="#111" stroke-width="0.25">2</text>
<text x="460.5" y="349.6" text-anchor="end" font-size="8.7" font-weight="bold" textLength="9.2" lengthAdjust="spacingAndGlyphs" stroke="#111" stroke-width="0.3">10</text>
<text x="460.8" y="344.4" font-size="9.2" font-weight="bold" textLength="4.7" lengthAdjust="spacingAndGlyphs" stroke="#111" stroke-width="0.25">3</text>
<text x="511.8" y="349.6" text-anchor="end" font-size="8.7" font-weight="bold" textLength="9.2" lengthAdjust="spacingAndGlyphs" stroke="#111" stroke-width="0.3">10</text>
<text x="512.1" y="344.4" font-size="9.2" font-weight="bold" textLength="4.7" lengthAdjust="spacingAndGlyphs" stroke="#111" stroke-width="0.25">4</text>
<text x="385.8" y="200.7" font-size="14.6" fill="#1c1c1c" textLength="38" lengthAdjust="spacingAndGlyphs">Day 7</text>
</g>
<g id="panel5">
<polyline points="41.4,522.5 74.5,522.5 74.8,522.5 74.8,516.5 75.2,516.5 75.6,516.5 75.6,503.3 76,503.3 76.4,503.3 76.4,516.5 76.8,516.5 87.9,516.5 110.6,516.5 110.7,516.5 110.7,522.5 110.8,522.5 110.9,522.5 110.9,516.5 111,516.5 116,516.5 116.4,516.5 116.4,510.6 116.8,510.6 119.8,510.6 120.2,510.6 120.2,504.4 120.6,504.4 126.4,504.4 126,504.4 127.9,504.4 128.3,504.4 128.3,508.1 128.7,508.1 129.3,508.1 129.3,504.4 129.8,504.4 130.4,504.4 130.4,498.5 131,498.5 131.6,498.5 131.6,492.5 132.2,492.5 132.9,492.5 132.9,498.5 133.7,498.5 134.5,498.5 134.5,492.5 135.2,492.5 135.8,492.5 135.8,498.5 136.4,498.5 137,498.5 137,492.5 137.5,492.5 138.3,492.5 138.3,486.5 139.1,486.5 139.8,486.5 139.8,480.6 140.6,480.6 141.4,480.6 141.4,486.5 142.2,486.5 142.9,486.5 142.9,492.5 143.7,492.5 144.3,492.5 144.3,480.6 144.8,480.6 146.8,480.6 147.3,480.6 147.3,486.5 147.9,486.5 148.5,486.5 148.5,492.5 149.1,492.5 149.7,492.5 149.7,486.5 150.2,486.5 150.8,486.5 150.8,496.5 151.4,496.5 152,496.5 152,486.5 152.5,486.5 153.1,486.5 153.1,480.6 153.7,480.6 154.3,480.6 154.3,467.3 154.8,467.3 155.4,467.3 155.4,492.5 156,492.5 156.4,492.5 156.4,504.4 156.8,504.4 157.2,504.4 157.2,486.5 157.5,486.5 157.9,486.5 157.9,479.2 158.3,479.2 158.9,479.2 158.9,492.5 159.5,492.5 160,492.5 160,496.5 160.6,496.5 161.2,496.5 161.2,498.5 161.8,498.5 162.3,498.5 162.3,492.5 162.9,492.5 163.5,492.5 163.5,498.5 164.1,498.5 164.8,498.5 164.8,504.4 165.6,504.4 167.2,504.4 167.9,504.4 167.9,498.5 168.7,498.5 170.2,498.5 170.8,498.5 170.8,504.4 171.4,504.4 172.2,504.4 172.2,510.6 172.9,510.6 174.5,510.6 175,510.6 175,504.4 175.6,504.4 176.2,504.4 176.2,510.6 176.8,510.6 177.5,510.6 177.5,513.8 178.3,513.8 179.5,513.8 179.5,510.6 180.6,510.6 181.4,510.6 181.4,516.5 182.2,516.5 185.6,516.5 186.4,516.5 186.4,519.6 187.2,519.6 187.9,519.6 187.9,515.8 188.7,515.8 189.5,515.8 189.5,517.7 190.2,517.7 190.8,517.7 190.8,522.5 191.4,522.5" fill="none" stroke="#0a0a0a" stroke-width="1.35" stroke-linejoin="miter" stroke-linecap="butt"/>
<polyline points="40.2,498.5 40.4,498.5 40.4,516.5 40.6,516.5 41.1,516.5 41.1,517.3 41.5,517.3 42,517.3 42,522.4 42.4,522.4 43,522.4 43,517.3 43.6,517.3 44,517.3 44,522.4 44.5,522.4 45,522.4 45,517.3 45.4,517.3 46,517.3 46,522.4 46.6,522.4 47.2,522.4 47.2,517.3 47.8,517.3 48.2,517.3 48.2,522.4 48.5,522.4 48.9,522.4 48.9,517.3 49.2,517.3 49.8,517.3 49.8,522.4 50.4,522.4 50.9,522.4 50.9,517.3 51.3,517.3 52.3,517.3 53.3,517.3 54.3,517.3 55.3,517.3 55.9,517.3 55.9,522.4 56.5,522.4 57.1,522.4 57.1,517.3 57.7,517.3 58.1,517.3 58.1,522.4 58.4,522.4 58.8,522.4 58.8,517.3 59.1,517.3 59.6,517.3 59.6,522.4 60,522.4 60.5,522.4 60.5,517.3 60.9,517.3 61.6,517.3 62.6,517.3 63.6,517.3 64.6,517.3 65.6,517.3 66,517.3 66,522.4 66.3,522.4 66.9,522.4 66.9,517.3 67.5,517.3 68.5,517.3 69.5,517.3 70.5,517.3 71.5,517.3 72.1,517.3 72.1,522.4 72.7,522.4 73.3,522.4 73.3,517.3 73.9,517.3 74.5,517.3 74.5,517.3 74.5,516.5 74.5,516.5 74.8,516.5 74.8,510.6 75.2,510.6 75.6,510.6 75.6,516.5 76,516.5 78.7,516.5 79.1,516.5 79.1,510.6 79.5,510.6 80.6,510.6 81,510.6 81,516.5 81.4,516.5 81.8,516.5 81.8,510.6 82.2,510.6 83.3,510.6 83.7,510.6 83.7,516.5 84.1,516.5 84.5,516.5 84.5,510.6 84.8,510.6 85.2,510.6 85.2,516.5 85.6,516.5 87.2,516.5 87.5,516.5 87.5,521.2 87.9,521.2 88.5,521.2 88.5,516.5 89.1,516.5 89.5,516.5 89.5,510.6 89.8,510.6 91.8,510.6 92.2,510.6 92.2,516.5 92.5,516.5 92.9,516.5 92.9,510.6 93.3,510.6 94.8,510.6 95.2,510.6 95.2,516.5 95.6,516.5 96,516.5 96,510.6 96.4,510.6 97.5,510.6 98.1,510.6 98.1,516.5 98.7,516.5 99.1,516.5 99.1,510.6 99.5,510.6 100,510.6 100,504.4 100.6,504.4 101.2,504.4 101.2,510.6 101.8,510.6 102.2,510.6 102.2,504.4 102.5,504.4 103.7,504.4 104.3,504.4 104.3,498.5 104.8,498.5 105.2,498.5 105.2,504.4 105.6,504.4 106,504.4 106,498.5 106.4,498.5 107,498.5 107,504.4 107.5,504.4 107.9,504.4 107.9,510.6 108.3,510.6 108.7,510.6 108.7,504.4 109.1,504.4 109.5,504.4 109.5,510.6 109.8,510.6 110.6,510.6 111.2,510.6 111.2,504.4 111.8,504.4 112.3,504.4 112.3,498.5 112.9,498.5 113.5,498.5 113.5,504.4 114.1,504.4 114.5,504.4 114.5,498.5 114.8,498.5 116,498.5 116.4,498.5 116.4,492.5 116.8,492.5 117.3,492.5 117.3,498.5 117.9,498.5 118.3,498.5 118.3,492.5 118.7,492.5 119.8,492.5 120.4,492.5 120.4,486.5 121,486.5 121.6,486.5 121.6,492.5 122.2,492.5 122.5,492.5 122.5,486.5 122.9,486.5 124.8,486.5 126,486.5 126.4,486.5 126.4,492.5 126.8,492.5 127.2,492.5 127.2,480.6 127.5,480.6 127.9,480.6 127.9,492.5 128.3,492.5 128.7,492.5 128.7,486.5 129.1,486.5 129.5,486.5 129.5,498.5 129.8,498.5 130.2,498.5 130.2,492.5 130.6,492.5 131,492.5 131,480.6 131.4,480.6 131.8,480.6 131.8,474.4 132.2,474.4 132.5,474.4 132.5,486.5 132.9,486.5 133.3,486.5 133.3,474.4 133.7,474.4 134.5,474.4 134.8,474.4 134.8,492.5 135.2,492.5 135.6,492.5 135.6,486.5 136,486.5 136.4,486.5 136.4,498.5 136.8,498.5 137.2,498.5 137.2,486.5 137.5,486.5 137.9,486.5 137.9,492.5 138.3,492.5 138.7,492.5 138.7,504.4 139.1,504.4 139.5,504.4 139.5,486.5 139.8,486.5 140.2,486.5 140.2,480.6 140.6,480.6 141,480.6 141,492.5 141.4,492.5 141.8,492.5 141.8,498.5 142.2,498.5 142.5,498.5 142.5,492.5 142.9,492.5 143.3,492.5 143.3,504.4 143.7,504.4 144.8,504.4 145.4,504.4 145.4,498.5 146,498.5 146.6,498.5 146.6,504.4 147.2,504.4 147.5,504.4 147.5,510.6 147.9,510.6 148.5,510.6 148.5,504.4 149.1,504.4 149.7,504.4 149.7,510.6 150.2,510.6 154.8,510.6 155.2,510.6 155.2,516.5 155.6,516.5 156.2,516.5 156.2,510.6 156.8,510.6 157.9,510.6 158.5,510.6 158.5,506.2 159.1,506.2 159.7,506.2 159.7,510.6 160.2,510.6 160.8,510.6 160.8,516.5 161.4,516.5 162,516.5 162,510.6 162.5,510.6 163.1,510.6 163.1,516.5 163.7,516.5 171.2,516.5 171.7,516.5 171.7,521.2 172.2,521.2 172.7,521.2 172.7,516.5 173.3,516.5 175.6,516.5 176.2,516.5 176.2,521.2 176.8,521.2 177.3,521.2 177.3,516.5 177.9,516.5 181.8,516.5 182.3,516.5 182.3,521.2 182.9,521.2 183.7,521.2 183.7,516.5 184.5,516.5 187.5,516.5 188.1,516.5 188.1,521.2 188.7,521.2 189.3,521.2 189.3,516.5 189.8,516.5 191,516.5 191.4,516.5 191.4,522.5 191.8,522.5" fill="none" stroke="#0a0a0a" stroke-width="2.7" stroke-linejoin="miter" stroke-linecap="butt"/>
<path d="M40 402.5 L100 401.4 L247.2 400.9 L247 522.1" fill="none" stroke="#111" stroke-width="1.25"/>
<path d="M40 402 L40.2 523.6" stroke="#000" stroke-width="1.6"/>
<path d="M40.3 498 L40.5 522.6" stroke="#000" stroke-width="3"/>
<path d="M39.4 522.6 L247.6 522.1" stroke="#000" stroke-width="2.2"/>
<path d="M40 522.6h-5.4M40 516.6h-3M40 510.6h-3M40 504.6h-3M40 498.6h-3M40 492.6h-5.4M40 486.6h-3M40 480.6h-3M40 474.6h-3M40 468.6h-3M40 462.6h-5.4M40 456.5h-3M40 450.5h-3M40 444.5h-3M40 438.5h-3M40 432.5h-5.4M40 426.5h-3M40 420.5h-3M40 414.5h-3M40 408.5h-3M40 402.5h-5.4" stroke="#000" stroke-width="1.5" fill="none"/>
<text transform="translate(31.5 520.7) rotate(-90)" text-anchor="middle" font-size="8.2" font-weight="bold" textLength="4.9" lengthAdjust="spacingAndGlyphs" stroke="#111" stroke-width="0.3">0</text>
<text transform="translate(31.5 491.4) rotate(-90)" text-anchor="middle" font-size="8.2" font-weight="bold" textLength="4.9" lengthAdjust="spacingAndGlyphs" stroke="#111" stroke-width="0.3">5</text>
<text transform="translate(31.5 461.4) rotate(-90)" text-anchor="middle" font-size="8.2" font-weight="bold" textLength="9.8" lengthAdjust="spacingAndGlyphs" stroke="#111" stroke-width="0.3">10</text>
<text transform="translate(31.5 431.3) rotate(-90)" text-anchor="middle" font-size="8.2" font-weight="bold" textLength="9.8" lengthAdjust="spacingAndGlyphs" stroke="#111" stroke-width="0.3">15</text>
<text transform="translate(31.5 401.3) rotate(-90)" text-anchor="middle" font-size="8.2" font-weight="bold" textLength="9.8" lengthAdjust="spacingAndGlyphs" stroke="#111" stroke-width="0.3">20</text>
<path d="M40.6 522.1v5.2M56.1 522.6v3.1M65.1 522.5v3.1M71.5 522.5v3.1M76.5 522.5v3.1M80.6 522.5v3.1M84 522.5v3.1M87 522.5v3.1M89.6 522.5v3.1M92 522v5.2M107.4 522.4v3.1M116.5 522.4v3.1M122.9 522.4v3.1M127.8 522.4v3.1M131.9 522.4v3.1M135.3 522.4v3.1M138.3 522.4v3.1M141 522.4v3.1M143.3 521.9v5.2M158.8 522.3v3.1M167.8 522.3v3.1M174.2 522.3v3.1M179.2 522.3v3.1M183.3 522.3v3.1M186.7 522.2v3.1M189.7 522.2v3.1M192.3 522.2v3.1M194.7 521.7v5.2M210.1 522.2v3.1M219.2 522.2v3.1M225.6 522.1v3.1M230.5 522.1v3.1M234.6 522.1v3.1M238 522.1v3.1M241 522.1v3.1M243.7 522.1v3.1M246 521.6v5.2" stroke="#000" stroke-width="1.2" fill="none"/>
<text x="43.1" y="538.3" text-anchor="end" font-size="8.7" font-weight="bold" textLength="9.2" lengthAdjust="spacingAndGlyphs" stroke="#111" stroke-width="0.3">10</text>
<text x="43.4" y="533.1" font-size="9.2" font-weight="bold" textLength="4.7" lengthAdjust="spacingAndGlyphs" stroke="#111" stroke-width="0.25">0</text>
<text x="94.5" y="538.2" text-anchor="end" font-size="8.7" font-weight="bold" textLength="9.2" lengthAdjust="spacingAndGlyphs" stroke="#111" stroke-width="0.3">10</text>
<text x="94.8" y="533" font-size="9.2" font-weight="bold" textLength="4.7" lengthAdjust="spacingAndGlyphs" stroke="#111" stroke-width="0.25">1</text>
<text x="145.8" y="538.1" text-anchor="end" font-size="8.7" font-weight="bold" textLength="9.2" lengthAdjust="spacingAndGlyphs" stroke="#111" stroke-width="0.3">10</text>
<text x="146.1" y="532.9" font-size="9.2" font-weight="bold" textLength="4.7" lengthAdjust="spacingAndGlyphs" stroke="#111" stroke-width="0.25">2</text>
<text x="197.2" y="537.9" text-anchor="end" font-size="8.7" font-weight="bold" textLength="9.2" lengthAdjust="spacingAndGlyphs" stroke="#111" stroke-width="0.3">10</text>
<text x="197.5" y="532.7" font-size="9.2" font-weight="bold" textLength="4.7" lengthAdjust="spacingAndGlyphs" stroke="#111" stroke-width="0.25">3</text>
<text x="248.5" y="537.8" text-anchor="end" font-size="8.7" font-weight="bold" textLength="9.2" lengthAdjust="spacingAndGlyphs" stroke="#111" stroke-width="0.3">10</text>
<text x="248.8" y="532.6" font-size="9.2" font-weight="bold" textLength="4.7" lengthAdjust="spacingAndGlyphs" stroke="#111" stroke-width="0.25">4</text>
<text x="120.8" y="389.2" font-size="14.6" fill="#1c1c1c" textLength="39.2" lengthAdjust="spacingAndGlyphs">Day 9</text>
<text transform="translate(13.5 466.2) rotate(-90)" text-anchor="middle" font-size="15.4" fill="#1c1c1c" textLength="51.8" lengthAdjust="spacingAndGlyphs">Counts</text>
<text x="120.8" y="556.4" font-size="14.4" fill="#1c1c1c" textLength="47.1" lengthAdjust="spacingAndGlyphs">CXCR4</text>
</g>
<g id="panel6">
<polyline points="304.6,521.6 311.5,521.6 311.9,521.6 311.9,516 312.3,516 312.9,516 312.9,521.6 313.5,521.6 348.1,521.6 348.7,521.6 348.7,516 349.2,516 349.8,516 349.8,521.6 350.4,521.6 351,521.6 351,516 351.5,516 353.8,516 354.4,516 354.4,521.6 355,521.6 355.6,521.6 355.6,516 356.2,516 357.7,516 358.3,516 358.3,521.6 358.8,521.6 359.4,521.6 359.4,516 360,516 362.3,516 362.9,516 362.9,521.6 363.5,521.6 364,521.6 364,516 364.6,516 365,516 365,510 365.4,510 366,510 366,516 366.5,516 369.2,516 369.6,516 369.6,510 370,510 370.6,510 370.6,516 371.2,516 376.2,516 376.7,516 376.7,510 377.3,510 378.5,510 378.5,503.8 379.6,503.8 380.6,503.8 380.6,497.9 381.5,497.9 384.6,497.9 385.2,497.9 385.2,491.9 385.8,491.9 387.7,491.9 388.3,491.9 388.3,486 388.8,486 391.5,486 392.3,486 392.3,480 393.1,480 393.7,480 393.7,486 394.2,486 394.8,486 394.8,480 395.4,480 395.8,480 395.8,465.2 396.2,465.2 396.9,465.2 396.9,454.4 397.6,454.4 398.2,454.4 398.2,465.2 398.8,465.2 399.3,465.2 399.3,470.6 399.9,470.6 400.6,470.6 400.6,465.2 401.2,465.2 401.8,465.2 401.8,460.5 402.3,460.5 403,460.5 403,471.9 403.6,471.9 404.5,471.9 404.5,473.9 405.3,473.9 406.1,473.9 406.1,484 407,484 407.7,484 407.7,486.7 408.4,486.7 409,486.7 409,479.3 409.7,479.3 410.4,479.3 410.4,489.4 411,489.4 411.7,489.4 411.7,494.8 412.4,494.8 413.1,494.8 413.1,489.4 413.7,489.4 414.4,489.4 414.4,484.7 415.1,484.7 415.8,484.7 415.8,489.4 416.4,489.4 417.1,489.4 417.1,484 417.8,484 418.5,484 418.5,490.8 419.1,490.8 420,490.8 420,496.1 420.9,496.1 421.7,496.1 421.7,494.8 422.5,494.8 423.3,494.8 423.3,484 424.1,484 425,484 425,490.8 425.9,490.8 426.9,490.8 426.9,497.5 427.9,497.5 428.2,497.5 428.2,497.9 428.5,497.9 429.2,497.9 429.2,501.3 430,501.3 430.8,501.3 430.8,503.8 431.5,503.8 432.3,503.8 432.3,508.1 433.1,508.1 433.8,508.1 433.8,503.8 434.6,503.8 435.4,503.8 435.4,510 436.2,510 437.1,510 437.1,511.9 438.1,511.9 439,511.9 439,510 440,510 440.8,510 440.8,506.2 441.5,506.2 442.1,506.2 442.1,503.3 442.7,503.3 443.3,503.3 443.3,508.1 443.8,508.1 444.6,508.1 444.6,513.8 445.4,513.8 446.2,513.8 446.2,516 446.9,516 448.3,516 448.3,517.7 449.6,517.7 450.6,517.7 450.6,516 451.5,516 452.5,516 452.5,517.7 453.5,517.7 454.4,517.7 454.4,521.6 455.4,521.6" fill="none" stroke="#0a0a0a" stroke-width="1.35" stroke-linejoin="miter" stroke-linecap="butt"/>
<polyline points="304.6,521.6 304.8,521.6 304.8,516 305,516 305.2,516 305.2,516 305.5,516 305.9,516 305.9,521.6 306.4,521.6 306.8,521.6 306.8,516 307.3,516 307.9,516 307.9,521.6 308.5,521.6 309.1,521.6 309.1,516 309.7,516 310.3,516 310.3,521.6 310.9,521.6 311.3,521.6 311.3,516 311.8,516 312.8,516 313.8,516 314.8,516 315.1,516 315.1,521.6 315.5,521.6 315.9,521.6 315.9,516 316.4,516 316.7,516 316.7,521.6 317.1,521.6 317.5,521.6 317.5,516 318,516 318.9,516 319.9,516 320.9,516 321.9,516 322.9,516 323.3,516 323.3,521.6 323.8,521.6 324.4,521.6 324.4,516 325,516 326,516 327,516 328,516 329,516 329.4,516 329.4,521.6 329.9,521.6 330.5,521.6 330.5,516 331.1,516 332.1,516 333.1,516 334.1,516 334.7,516 334.7,521.6 335.3,521.6 335.6,521.6 335.6,516 336,516 337,516 337.2,516 337.2,516 337.5,516 338,516 338,510 338.5,510 339,510 339,516 339.6,516 340,516 340,510 340.4,510 341.5,510 342.1,510 342.1,516 342.7,516 346.2,516 346.7,516 346.7,510 347.3,510 347.9,510 347.9,516 348.5,516 348.8,516 348.8,510 349.2,510 350.4,510 351,510 351,516 351.5,516 351.9,516 351.9,510 352.3,510 352.9,510 352.9,503.8 353.5,503.8 354,503.8 354,510 354.6,510 355,510 355,503.8 355.4,503.8 356.9,503.8 357.3,503.8 357.3,491.9 357.7,491.9 358.3,491.9 358.3,503.8 358.8,503.8 359.4,503.8 359.4,497.9 360,497.9 360.6,497.9 360.6,503.8 361.2,503.8 361.5,503.8 361.5,497.9 361.9,497.9 363.5,497.9 363.8,497.9 363.8,503.8 364.2,503.8 364.8,503.8 364.8,497.9 365.4,497.9 366,497.9 366,503.8 366.5,503.8 367.1,503.8 367.1,491.9 367.7,491.9 368.3,491.9 368.3,497.9 368.8,497.9 369.2,497.9 369.2,491.9 369.6,491.9 371.2,491.9 371.7,491.9 371.7,497.9 372.3,497.9 372.9,497.9 372.9,491.9 373.5,491.9 373.8,491.9 373.8,497.9 374.2,497.9 375,497.9 375.6,497.9 375.6,486 376.2,486 376.7,486 376.7,491.9 377.3,491.9 377.7,491.9 377.7,486 378.1,486 380,486 380.6,486 380.6,480 381.2,480 381.5,480 381.5,486 381.9,486 382.5,486 382.5,473.8 383.1,473.8 383.5,473.8 383.5,480 383.8,480 384.2,480 384.2,486 384.6,486 385.2,486 385.2,480 385.8,480 386.5,480 387.1,480 387.1,467.9 387.7,467.9 388.3,467.9 388.3,480 388.8,480 389.2,480 389.2,486 389.6,486 390,486 390,480 390.4,480 391.2,480 391.2,473.8 391.9,473.8 392.3,473.8 392.3,480 392.7,480 393.1,480 393.1,486 393.5,486 393.8,486 393.8,480 394.2,480 394.6,480 394.6,486 395,486 397.3,486 397.7,486 398.1,486 398.1,491.9 398.5,491.9 398.8,491.9 398.8,486 399.2,486 399.6,486 399.6,491.9 400,491.9 400.6,491.9 400.6,497.9 401.2,497.9 401.5,497.9 401.5,491.9 401.9,491.9 402.3,491.9 402.3,497.9 402.7,497.9 403.3,497.9 403.3,503.8 403.8,503.8 404.2,503.8 404.2,497.9 404.6,497.9 405.2,497.9 405.2,503.8 405.8,503.8 407.3,503.8 407.9,503.8 407.9,510 408.5,510 409,510 409,503.8 409.6,503.8 410.2,503.8 410.2,510 410.8,510 418.8,510 419.4,510 419.4,516 420,516 420.6,516 420.6,510 421.2,510 421.7,510 421.7,516 422.3,516 434.2,516 434.8,516 434.8,521.6 435.4,521.6 436.2,521.6 436.2,516 436.9,516 439.2,516 439.8,516 439.8,521.6 440.4,521.6 441.2,521.6 441.2,516 441.9,516 445.8,516 446.7,516 446.7,521.6 447.7,521.6 448.7,521.6 448.7,516 449.6,516 454.6,516 455.4,516 455.4,521.6 456.2,521.6" fill="none" stroke="#0a0a0a" stroke-width="2.7" stroke-linejoin="miter" stroke-linecap="butt"/>
<path d="M304.1 402.2 L405 401 L510.9 401.4 L511.3 521.4" fill="none" stroke="#111" stroke-width="1.25"/>
<path d="M304.1 401.7 L304.4 522.6" stroke="#000" stroke-width="1.6"/>
<path d="M303.6 521.6 L511.9 521.4" stroke="#000" stroke-width="2.2"/>
<path d="M304.1 521.6h-5.4M304.1 515.6h-3M304.1 509.7h-3M304.1 503.7h-3M304.1 497.7h-3M304.1 491.8h-5.4M304.1 485.8h-3M304.1 479.8h-3M304.1 473.8h-3M304.1 467.9h-3M304.1 461.9h-5.4M304.1 455.9h-3M304.1 450h-3M304.1 444h-3M304.1 438h-3M304.1 432.1h-5.4M304.1 426.1h-3M304.1 420.1h-3M304.1 414.1h-3M304.1 408.2h-3M304.1 402.2h-5.4" stroke="#000" stroke-width="1.5" fill="none"/>
<text transform="translate(296.1 520) rotate(-90)" text-anchor="middle" font-size="8.2" font-weight="bold" textLength="4.9" lengthAdjust="spacingAndGlyphs" stroke="#111" stroke-width="0.3">0</text>
<text transform="translate(296.1 490.9) rotate(-90)" text-anchor="middle" font-size="8.2" font-weight="bold" textLength="4.9" lengthAdjust="spacingAndGlyphs" stroke="#111" stroke-width="0.3">5</text>
<text transform="translate(296.1 461) rotate(-90)" text-anchor="middle" font-size="8.2" font-weight="bold" textLength="9.8" lengthAdjust="spacingAndGlyphs" stroke="#111" stroke-width="0.3">10</text>
<text transform="translate(296.1 431.2) rotate(-90)" text-anchor="middle" font-size="8.2" font-weight="bold" textLength="9.8" lengthAdjust="spacingAndGlyphs" stroke="#111" stroke-width="0.3">15</text>
<text transform="translate(296.1 401.3) rotate(-90)" text-anchor="middle" font-size="8.2" font-weight="bold" textLength="9.8" lengthAdjust="spacingAndGlyphs" stroke="#111" stroke-width="0.3">20</text>
<path d="M305.4 521.1v5.2M320.8 521.6v3.1M329.8 521.6v3.1M336.2 521.6v3.1M341.2 521.6v3.1M345.2 521.6v3.1M348.6 521.6v3.1M351.6 521.6v3.1M354.2 521.6v3.1M356.5 521v5.2M371.9 521.5v3.1M381 521.5v3.1M387.3 521.5v3.1M392.3 521.5v3.1M396.4 521.5v3.1M399.8 521.5v3.1M402.7 521.5v3.1M405.4 521.5v3.1M407.7 521v5.2M423.1 521.5v3.1M432.1 521.5v3.1M438.5 521.5v3.1M443.5 521.5v3.1M447.5 521.5v3.1M450.9 521.5v3.1M453.9 521.5v3.1M456.5 521.5v3.1M458.9 521v5.2M474.2 521.4v3.1M483.3 521.4v3.1M489.6 521.4v3.1M494.6 521.4v3.1M498.7 521.4v3.1M502.1 521.4v3.1M505 521.4v3.1M507.7 521.4v3.1M510 520.9v5.2" stroke="#000" stroke-width="1.2" fill="none"/>
<text x="307.9" y="537.1" text-anchor="end" font-size="8.7" font-weight="bold" textLength="9.2" lengthAdjust="spacingAndGlyphs" stroke="#111" stroke-width="0.3">10</text>
<text x="308.2" y="531.9" font-size="9.2" font-weight="bold" textLength="4.7" lengthAdjust="spacingAndGlyphs" stroke="#111" stroke-width="0.25">0</text>
<text x="359" y="537" text-anchor="end" font-size="8.7" font-weight="bold" textLength="9.2" lengthAdjust="spacingAndGlyphs" stroke="#111" stroke-width="0.3">10</text>
<text x="359.3" y="531.8" font-size="9.2" font-weight="bold" textLength="4.7" lengthAdjust="spacingAndGlyphs" stroke="#111" stroke-width="0.25">1</text>
<text x="410.2" y="537" text-anchor="end" font-size="8.7" font-weight="bold" textLength="9.2" lengthAdjust="spacingAndGlyphs" stroke="#111" stroke-width="0.3">10</text>
<text x="410.5" y="531.8" font-size="9.2" font-weight="bold" textLength="4.7" lengthAdjust="spacingAndGlyphs" stroke="#111" stroke-width="0.25">2</text>
<text x="461.4" y="537" text-anchor="end" font-size="8.7" font-weight="bold" textLength="9.2" lengthAdjust="spacingAndGlyphs" stroke="#111" stroke-width="0.3">10</text>
<text x="461.7" y="531.8" font-size="9.2" font-weight="bold" textLength="4.7" lengthAdjust="spacingAndGlyphs" stroke="#111" stroke-width="0.25">3</text>
<text x="512.5" y="536.9" text-anchor="end" font-size="8.7" font-weight="bold" textLength="9.2" lengthAdjust="spacingAndGlyphs" stroke="#111" stroke-width="0.3">10</text>
<text x="512.8" y="531.7" font-size="9.2" font-weight="bold" textLength="4.7" lengthAdjust="spacingAndGlyphs" stroke="#111" stroke-width="0.25">4</text>
<text x="385" y="387.4" font-size="14.6" fill="#1c1c1c" textLength="46.9" lengthAdjust="spacingAndGlyphs">Day 12</text>
<text x="384.9" y="554.5" font-size="14.4" fill="#1c1c1c" textLength="47" lengthAdjust="spacingAndGlyphs">CXCR4</text>
</g>
</svg>
</body></html>
